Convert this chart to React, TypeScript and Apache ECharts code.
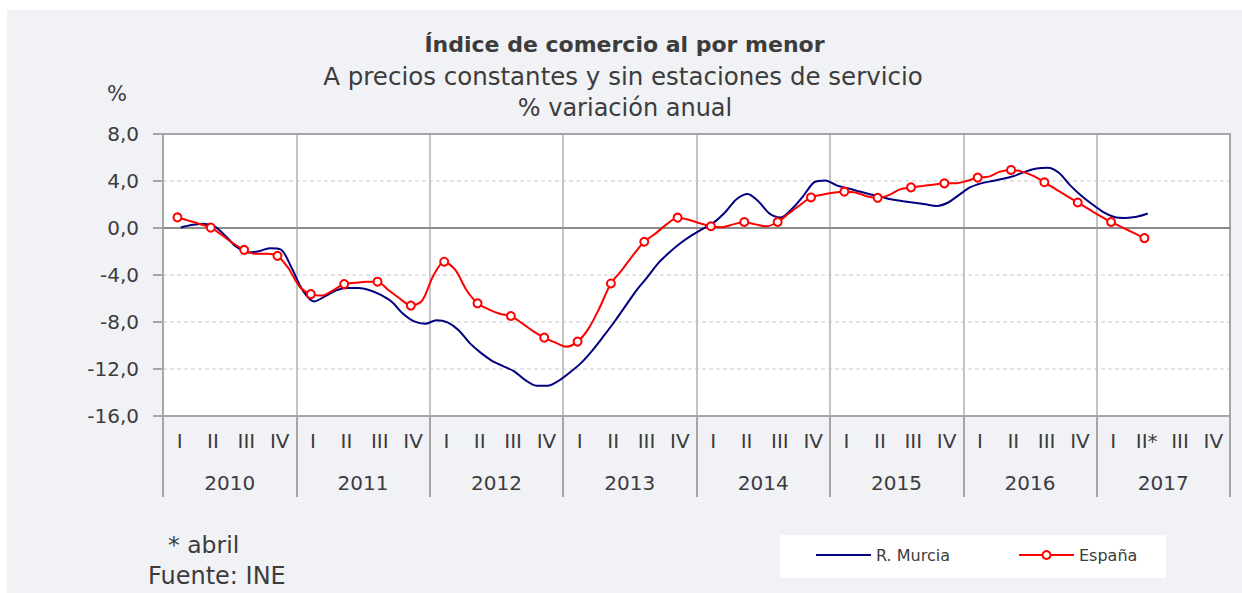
import React, { useEffect, useRef } from 'react';
import * as echarts from 'echarts';

// ---- data ----
const years = ['2010', '2011', '2012', '2013', '2014', '2015', '2016', '2017'];
const quarterNames = ['I', 'II', 'III', 'IV'];
const quarterLabels = years.flatMap((y) =>
  quarterNames.map((q, k) => (y === '2017' && k === 1 ? 'II*' : q))
);

// monthly % annual variation, Jan 2010 - Apr 2017
const murcia = [
  0.05, 0.25, 0.37, 0.15, -0.65, -1.6, -2.08, -1.98, -1.72, -1.83, -3.44, -5.35,
  -6.25, -5.8, -5.3, -5.1, -5.1, -5.3, -5.7, -6.3, -7.3, -7.95, -8.15, -7.85,
  -8.03, -8.7, -9.8, -10.63, -11.3, -11.75, -12.2, -12.95, -13.42, -13.42, -13.0, -12.3,
  -11.5, -10.45, -9.25, -8.0, -6.65, -5.3, -4.15, -2.95, -2.05, -1.26, -0.6, -0.05,
  0.5, 1.36, 2.45, 2.9, 2.23, 1.2, 0.9, 1.64, 2.72, 3.9, 4.05, 3.63,
  3.38, 3.12, 2.88, 2.65, 2.42, 2.28, 2.15, 2.02, 1.88, 2.15, 2.8, 3.45,
  3.8, 4.0, 4.19, 4.44, 4.8, 5.06, 5.12, 4.7, 3.65, 2.77, 2.02, 1.36,
  0.94, 0.86, 0.95, 1.23,
];

const espana = [
  0.9, 0.63, 0.34, 0.03, -0.6, -1.3, -1.86, -2.2, -2.2, -2.37, -3.45, -5.0,
  -5.63, -5.75, -5.3, -4.77, -4.66, -4.57, -4.57, -5.3, -6.0, -6.6, -6.2, -4.1,
  -2.87, -3.57, -5.28, -6.41, -6.92, -7.3, -7.49, -8.1, -8.77, -9.33, -9.76, -10.1,
  -9.67, -8.54, -6.75, -4.72, -3.57, -2.3, -1.17, -0.48, 0.31, 0.88, 0.71, 0.4,
  0.15, 0.06, 0.31, 0.51, 0.31, 0.14, 0.51, 1.23, 1.94, 2.6, 2.83, 3.0,
  3.09, 3.03, 2.71, 2.57, 2.8, 3.29, 3.46, 3.57, 3.69, 3.8, 3.8, 4.0,
  4.29, 4.37, 4.8, 4.94, 4.8, 4.43, 3.89, 3.31, 2.74, 2.17, 1.6, 1.03,
  0.51, 0.06, -0.4, -0.86,
];

// position (in months from start of 2010) of each series' first point on the axis
const murciaStartMonth = 1.6;
const espanaStartMonth = 1.3;
const markerEvery = 3;
const totalMonths = years.length * 12;

const yMin = -16;
const yMax = 8;
const yStep = 4;

// ---- styles ----
const FONT = 'DejaVu Sans';
const TEXT = '#3c3c3c';
const AXIS_GRAY = '#a6a6a6';

function centeredText(text: string, x: number, y: number, fontSize: number, bold = false) {
  return {
    type: 'text',
    x,
    y,
    style: {
      text,
      fontSize,
      fontWeight: bold ? 'bold' : 'normal',
      fontFamily: FONT,
      fill: TEXT,
      align: 'center',
      verticalAlign: 'middle',
      textAlign: 'center',
      textVerticalAlign: 'middle',
    },
  };
}

function leftText(text: string, x: number, y: number, fontSize: number) {
  return {
    type: 'text',
    x,
    y,
    style: {
      text,
      fontSize,
      fontFamily: FONT,
      fill: TEXT,
      align: 'left',
      verticalAlign: 'middle',
      textAlign: 'left',
      textVerticalAlign: 'middle',
    },
  };
}

function buildOption() {
  return {
    animation: false,
    backgroundColor: '#f1f2f6',
    textStyle: { fontFamily: FONT },
    grid: {
      left: 163,
      top: 134,
      width: 1067,
      height: 282,
      show: true,
      backgroundColor: '#ffffff',
      borderWidth: 0,
    },
    xAxis: [
      {
        type: 'value',
        min: 0,
        max: totalMonths,
        position: 'bottom',
        axisLine: { show: true, onZero: true, lineStyle: { color: '#8c8c8c', width: 2 } },
        axisTick: { show: false },
        axisLabel: { show: false },
        splitLine: { show: false },
      },
      {
        type: 'category',
        data: quarterLabels,
        position: 'bottom',
        offset: 0,
        axisLine: { show: false, onZero: false },
        axisTick: { show: false },
        axisLabel: { interval: 0, margin: 15, fontSize: 20, color: TEXT, fontFamily: FONT },
        splitLine: { show: false },
      },
      {
        type: 'category',
        data: years,
        position: 'bottom',
        offset: 0,
        axisLine: { show: true, onZero: false, lineStyle: { color: AXIS_GRAY, width: 2 } },
        axisTick: { show: true, interval: 0, length: 81, lineStyle: { color: AXIS_GRAY, width: 2 } },
        axisLabel: { interval: 0, margin: 57, fontSize: 20, color: TEXT, fontFamily: FONT },
        splitLine: { show: true, interval: 0, lineStyle: { color: '#c4c4c4', width: 2 } },
      },
      {
        type: 'category',
        data: years,
        position: 'top',
        offset: 0,
        axisLine: { show: true, onZero: false, lineStyle: { color: AXIS_GRAY, width: 2 } },
        axisTick: { show: false },
        axisLabel: { show: false },
        splitLine: { show: false },
      },
    ],
    yAxis: [
      {
        type: 'value',
        min: yMin,
        max: yMax,
        interval: yStep,
        axisLine: { show: true, onZero: false, lineStyle: { color: AXIS_GRAY, width: 2 } },
        axisTick: { show: true, length: 10, lineStyle: { color: AXIS_GRAY, width: 2 } },
        axisLabel: {
          margin: 24,
          fontSize: 20,
          color: TEXT,
          fontFamily: FONT,
          formatter: (v: number) => v.toFixed(1).replace('.', ','),
        },
        splitLine: {
          show: true,
          showMinLine: false,
          showMaxLine: false,
          lineStyle: { color: '#dcdcdc', width: 1.5, type: [4, 3] },
        },
      },
      {
        type: 'value',
        min: yMin,
        max: yMax,
        interval: yStep,
        position: 'right',
        axisLine: { show: true, onZero: false, lineStyle: { color: AXIS_GRAY, width: 2 } },
        axisTick: { show: false },
        axisLabel: { show: false },
        splitLine: { show: false },
      },
    ],
    legend: [
      {
        data: ['R. Murcia'],
        left: 815,
        top: 547,
        padding: 0,
        itemWidth: 55,
        itemHeight: 9,
        itemStyle: { opacity: 0 },
        textStyle: { fontSize: 16, color: TEXT, fontFamily: FONT },
      },
      {
        data: ['España'],
        left: 1018,
        top: 547,
        padding: 0,
        itemWidth: 55,
        itemHeight: 10,
        textStyle: { fontSize: 16, color: TEXT, fontFamily: FONT },
      },
    ],
    graphic: [
      { type: 'rect', silent: true, shape: { x: 0, y: 0, width: 1242, height: 10 }, style: { fill: '#ffffff' } },
      { type: 'rect', silent: true, shape: { x: 0, y: 0, width: 7, height: 593 }, style: { fill: '#ffffff' } },
      { type: 'rect', silent: true, shape: { x: 780, y: 535, width: 386, height: 43 }, style: { fill: '#ffffff' } },
      centeredText('Índice de comercio al por menor', 624.5, 44, 22, true),
      centeredText('A precios constantes y sin estaciones de servicio', 623, 76, 24.5),
      centeredText('% variación anual', 625, 108, 24),
      centeredText('%', 117, 94, 21),
      leftText('* abril', 168, 545, 23.5),
      leftText('Fuente: INE', 148, 576, 24),
    ],
    series: [
      {
        name: 'R. Murcia',
        type: 'line',
        xAxisIndex: 0,
        yAxisIndex: 0,
        data: murcia.map((v, i) => [murciaStartMonth + i, v]),
        smooth: 0.3,
        symbol: 'none',
        lineStyle: { color: '#000080', width: 2 },
        itemStyle: { color: '#000080' },
        z: 3,
      },
      {
        name: 'España',
        type: 'line',
        xAxisIndex: 0,
        yAxisIndex: 0,
        data: espana.map((v, i) => ({
          value: [espanaStartMonth + i, v],
          symbol: i % markerEvery === 0 ? 'circle' : 'none',
        })),
        smooth: 0.3,
        symbol: 'circle',
        symbolSize: 8,
        showSymbol: true,
        lineStyle: { color: '#ff0000', width: 2 },
        itemStyle: { color: '#ffffff', borderColor: '#ff0000', borderWidth: 2 },
        z: 4,
      },
    ],
  };
}

export default function App() {
  const ref = useRef<HTMLDivElement>(null);
  useEffect(() => {
    if (!ref.current) return;
    const chart = echarts.init(ref.current, null, { renderer: 'svg' });
    chart.setOption(buildOption() as any);
    return () => {
      chart.dispose();
    };
  }, []);
  return (
    <div
      ref={ref}
      style={{ position: 'fixed', left: 0, top: 0, width: 1242, height: 593 }}
    />
  );
}
